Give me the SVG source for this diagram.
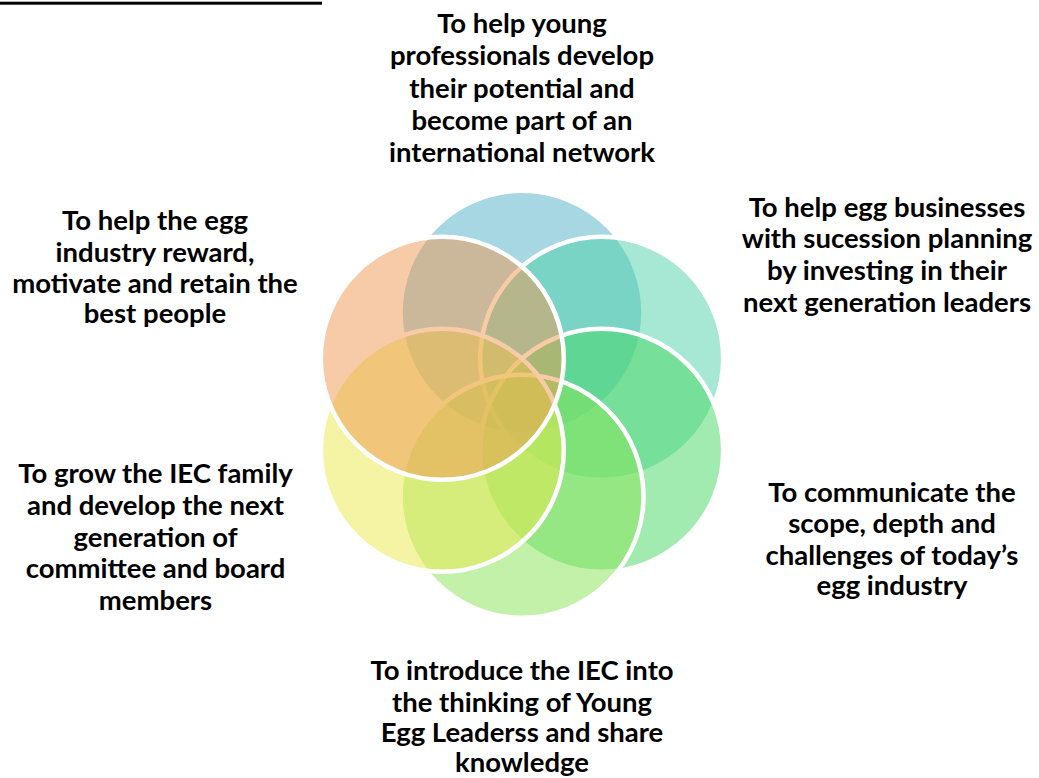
<svg xmlns="http://www.w3.org/2000/svg" width="1039" height="778" viewBox="0 0 1039 778">
  <style>
    .c { stroke: #ffffff; stroke-width: 4.5; fill-opacity: 0.5; }
    .t { font-family: Lato, "Liberation Sans", sans-serif; font-weight: bold; font-size: 27.5px; fill: #000000; text-anchor: middle; }
  </style>
  <rect x="0" y="0" width="1039" height="778" fill="#ffffff"/>
  <rect x="0" y="1.7" width="322" height="3" fill="#000000"/>
  <g id="circles">
    <g id="circle-top"><circle class="c" cx="522" cy="312.3" r="121.5" fill="#4DAFC5"/></g>
    <g id="circle-upper-right"><circle class="c" cx="601.7" cy="358.3" r="121.5" fill="#4DD1A9"/></g>
    <g id="circle-lower-right"><circle class="c" cx="601.7" cy="450.3" r="121.5" fill="#45D761"/></g>
    <g id="circle-bottom"><circle class="c" cx="522" cy="496.3" r="121.5" fill="#87E355"/></g>
    <g id="circle-lower-left"><circle class="c" cx="442.3" cy="450.3" r="121.5" fill="#EBE94B"/></g>
    <g id="circle-upper-left"><circle class="c" cx="442.3" cy="358.3" r="121.5" fill="#EF974F"/></g>
  </g>
  <g id="label-top">
    <text class="t" x="522" y="33">To help young</text>
    <text class="t" x="522" y="65">professionals develop</text>
    <text class="t" x="522" y="97.5">their potential and</text>
    <text class="t" x="522" y="129.5">become part of an</text>
    <text class="t" x="522" y="161.5">international network</text>
  </g>
  <g id="label-upper-right">
    <text class="t" x="887" y="216.7">To help egg businesses</text>
    <text class="t" x="887" y="248.3">with sucession planning</text>
    <text class="t" x="887" y="280">by investing in their</text>
    <text class="t" x="887" y="311.7">next generation leaders</text>
  </g>
  <g id="label-lower-right">
    <text class="t" x="892" y="501.7">To communicate the</text>
    <text class="t" x="892" y="533">scope, depth and</text>
    <text class="t" x="892" y="565">challenges of today’s</text>
    <text class="t" x="892" y="595">egg industry</text>
  </g>
  <g id="label-bottom">
    <text class="t" x="522" y="680">To introduce the IEC into</text>
    <text class="t" x="522" y="711.7">the thinking of Young</text>
    <text class="t" x="522" y="741.7">Egg Leaderss and share</text>
    <text class="t" x="522" y="771.7">knowledge</text>
  </g>
  <g id="label-lower-left">
    <text class="t" x="155.5" y="483.3">To grow the IEC family</text>
    <text class="t" x="155.5" y="515">and develop the next</text>
    <text class="t" x="155.5" y="546.7">generation of</text>
    <text class="t" x="155.5" y="578">committee and board</text>
    <text class="t" x="155.5" y="610">members</text>
  </g>
  <g id="label-upper-left">
    <text class="t" x="155" y="230">To help the egg</text>
    <text class="t" x="155" y="261.7">industry reward,</text>
    <text class="t" x="155" y="293">motivate and retain the</text>
    <text class="t" x="155" y="323">best people</text>
  </g>
</svg>
